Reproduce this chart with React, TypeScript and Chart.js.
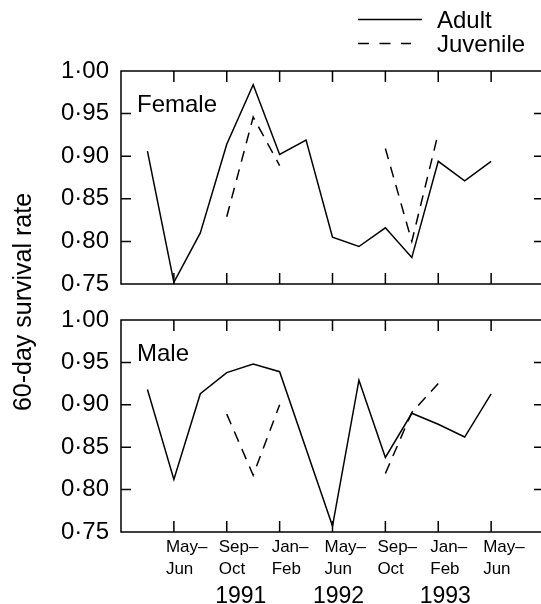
import React, { useEffect, useRef } from 'react';
import { Chart, registerables } from 'chart.js';

Chart.register(...registerables);

// ---- Data ----
const CATEGORIES = [
  'Jan–Feb 1991', 'Mar–Apr 1991', 'May–Jun 1991', 'Jul–Aug 1991', 'Sep–Oct 1991', 'Nov–Dec 1991',
  'Jan–Feb 1992', 'Mar–Apr 1992', 'May–Jun 1992', 'Jul–Aug 1992', 'Sep–Oct 1992', 'Nov–Dec 1992',
  'Jan–Feb 1993', 'Mar–Apr 1993', 'May–Jun 1993', 'Jul–Aug 1993', 'Sep–Oct 1993',
];

const TICK_LABELS: (string | string[])[] = [
  '', '', ['May–', 'Jun'], '', ['Sep–', 'Oct'], '', ['Jan–', 'Feb'], '', ['May–', 'Jun'], '',
  ['Sep–', 'Oct'], '', ['Jan–', 'Feb'], '', ['May–', 'Jun'], '', '',
];

const YEAR_LABELS = ['1991', '1992', '1993'];
const YEAR_AT = ['Sep–Oct 1991', 'May–Jun 1992', 'Jan–Feb 1993'];

const SERIES_NAMES = ['Adult', 'Juvenile'];
const PANEL_NAMES = ['Female', 'Male'];
const Y_AXIS_TITLE = '60-day survival rate';

const Y_MIN = 0.75;
const Y_MAX = 1.0;
const Y_STEP = 0.05;

const FEMALE_ADULT = [null, 0.906, 0.752, 0.810, 0.914, 0.984, 0.902, 0.919, 0.805, 0.794, 0.816, 0.781, 0.894, 0.871, 0.894, null, null];
const FEMALE_JUVENILE = [null, null, null, null, 0.829, 0.946, 0.889, null, null, null, 0.909, 0.800, 0.927, null, null, null, null];
const MALE_ADULT = [null, 0.918, 0.812, 0.913, 0.938, 0.948, 0.939, null, 0.757, 0.929, 0.838, 0.890, 0.877, 0.862, 0.913, null, null];
const MALE_JUVENILE = [null, null, null, null, 0.889, 0.817, 0.900, null, null, null, 0.819, 0.891, 0.925, null, null, null, null];

// ---- Styles ----
const FONT = "'Liberation Sans', Arial, Helvetica, sans-serif";
const BIG = 24;
const YEAR_SIZE = 23;
const TITLE_SIZE = 25;
const SMALL = 17;
const CANVAS_W = 560;
const CANVAS_H = 604;
const AXIS_W = 121;
const X_AXIS_H = 72;
const LINE_W = 1.5;
const DASH = [11, 8];
const LEGEND_DASH = [11, 10.5];
const YEAR_DX = [14, 6, 7];

const fmt = (v: number) => v.toFixed(2).replace('.', '\u00B7');

const decorPlugin = {
  id: 'decor',
  afterDatasetsDraw(chart: any) {
    const { ctx, chartArea } = chart;
    const xs = chart.scales.x;
    const L = chartArea.left;
    const R = chartArea.right;
    ctx.save();
    ctx.strokeStyle = '#000';
    ctx.fillStyle = '#000';
    ctx.lineWidth = LINE_W;
    ctx.setLineDash([]);
    ['yF', 'yM'].forEach((id, k) => {
      const s = chart.scales[id];
      const T = s.top;
      const B = s.bottom;
      ctx.beginPath();
      ctx.moveTo(L, T);
      ctx.lineTo(R, T);
      ctx.lineTo(R, B);
      ctx.lineTo(L, B);
      ctx.closePath();
      s.ticks.forEach((t: any) => {
        const p = s.getPixelForValue(t.value);
        ctx.moveTo(L, p);
        ctx.lineTo(L + 10, p);
        ctx.moveTo(R, p);
        ctx.lineTo(R - 10, p);
      });
      TICK_LABELS.forEach((lab, i) => {
        if (!lab) return;
        const p = xs.getPixelForValue(i);
        ctx.moveTo(p, T);
        ctx.lineTo(p, T + 11);
        ctx.moveTo(p, B);
        ctx.lineTo(p, B - 11);
      });
      ctx.stroke();
      ctx.font = `${BIG}px ${FONT}`;
      ctx.textAlign = 'left';
      ctx.textBaseline = 'alphabetic';
      ctx.fillText(PANEL_NAMES[k], L + 16, T + 41);
    });

    // years
    ctx.font = `${YEAR_SIZE}px ${FONT}`;
    ctx.textAlign = 'center';
    ctx.textBaseline = 'alphabetic';
    YEAR_LABELS.forEach((y, i) => {
      const p = xs.getPixelForValue(CATEGORIES.indexOf(YEAR_AT[i]));
      ctx.fillText(y, p + YEAR_DX[i], xs.top + 71);
    });

    // y title
    const yF = chart.scales.yF;
    const yM = chart.scales.yM;
    ctx.save();
    ctx.font = `${TITLE_SIZE}px ${FONT}`;
    ctx.translate(24, (yF.bottom + yM.top) / 2);
    ctx.rotate(-Math.PI / 2);
    ctx.textAlign = 'center';
    ctx.textBaseline = 'middle';
    ctx.fillText(Y_AXIS_TITLE, 0, 0);
    ctx.restore();

    // legend
    ctx.font = `${BIG}px ${FONT}`;
    const rows = [19.5, 43.5];
    SERIES_NAMES.forEach((name, i) => {
      const ds = chart.data.datasets[i];
      ctx.beginPath();
      ctx.lineWidth = ds.borderWidth;
      ctx.setLineDash(i === 0 ? [] : LEGEND_DASH);
      ctx.moveTo(358, rows[i]);
      ctx.lineTo(i === 0 ? 422 : 411, rows[i]);
      ctx.stroke();
      ctx.setLineDash([]);
      ctx.textAlign = 'left';
      ctx.textBaseline = 'alphabetic';
      ctx.fillText(name, 437, rows[i] + 8.5);
    });
    ctx.restore();
  },
};

const yScale = (weight: number, stackWeight: number, showTicks: boolean) => ({
  type: 'linear',
  position: 'left',
  stack: 'panels',
  stackWeight,
  weight,
  min: showTicks ? Y_MIN : 0,
  max: showTicks ? Y_MAX : 1,
  ticks: {
    display: showTicks,
    stepSize: Y_STEP,
    autoSkip: false,
    padding: 12,
    color: '#000',
    font: { family: FONT, size: BIG },
    callback: (v: number) => fmt(v),
  },
  grid: { display: false, drawTicks: false },
  border: { display: false },
  afterFit: (s: any) => {
    s.width = AXIS_W;
  },
});

export default function App() {
  const ref = useRef<HTMLCanvasElement>(null);
  useEffect(() => {
    if (!ref.current) return;
    const lineDs = (label: string, data: (number | null)[], axis: string, dashed: boolean, span: boolean) => ({
      label,
      data,
      yAxisID: axis,
      borderColor: '#000',
      backgroundColor: '#000',
      borderWidth: LINE_W,
      borderDash: dashed ? DASH : [],
      pointRadius: 0,
      tension: 0,
      fill: false,
      spanGaps: span,
    });
    const chart = new Chart(ref.current, {
      type: 'line',
      data: {
        labels: CATEGORIES,
        datasets: [
          lineDs('Female adult', FEMALE_ADULT, 'yF', false, true),
          lineDs('Female juvenile', FEMALE_JUVENILE, 'yF', true, false),
          lineDs('Male adult', MALE_ADULT, 'yM', false, true),
          lineDs('Male juvenile', MALE_JUVENILE, 'yM', true, false),
        ],
      },
      options: {
        responsive: false,
        animation: false,
        devicePixelRatio: 1,
        events: [],
        layout: { padding: { top: 71, left: 0, right: CANVAS_W - 544, bottom: 0 } },
        plugins: { legend: { display: false }, tooltip: { enabled: false }, title: { display: false } },
        scales: {
          x: {
            type: 'category',
            offset: false,
            grid: { display: false, drawTicks: false },
            border: { display: false },
            ticks: {
              autoSkip: false,
              maxRotation: 0,
              minRotation: 0,
              align: 'start',
              labelOffset: -8,
              padding: 4,
              color: '#000',
              font: { family: FONT, size: SMALL, lineHeight: 1.3 },
              callback: (_v: any, i: number) => TICK_LABELS[i],
            },
            afterFit: (s: any) => {
              s.height = X_AXIS_H;
            },
          },
          yF: yScale(3, 213, true),
          yGap: yScale(2, 36, false),
          yM: yScale(1, 212, true),
        } as any,
      },
      plugins: [decorPlugin],
    } as any);
    return () => chart.destroy();
  }, []);
  return (
    <div style={{ position: 'absolute', left: 0, top: 0, width: 541, height: 604, overflow: 'hidden', background: '#fff' }}>
      <canvas ref={ref} width={CANVAS_W} height={CANVAS_H} style={{ display: 'block', width: CANVAS_W, height: CANVAS_H }} />
    </div>
  );
}
